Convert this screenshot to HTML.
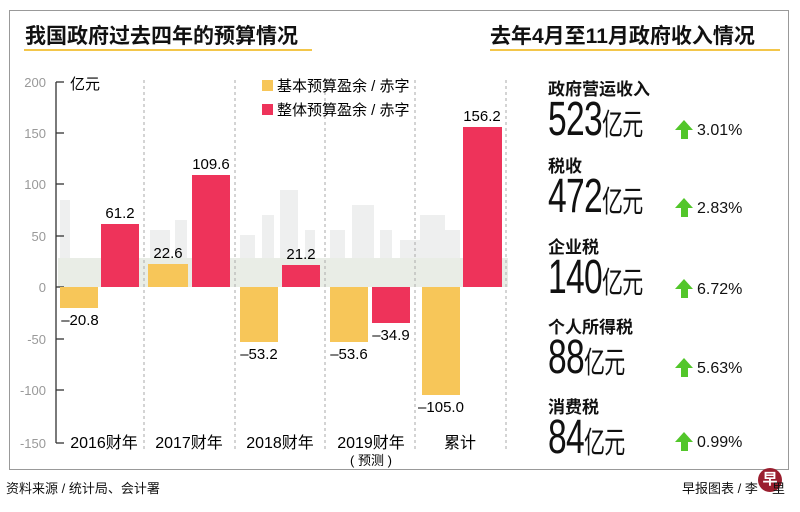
<!DOCTYPE html>
<html><head><meta charset="utf-8"><style>
body{margin:0;width:800px;height:512px;background:#fff;position:relative;overflow:hidden;font-family:"Liberation Sans","Noto Sans CJK SC",sans-serif;color:#111}
.a{position:absolute;white-space:nowrap}
.t{font-weight:bold;font-size:21px}
.lbl{font-weight:bold;font-size:17px;left:548px}
.num{left:548px;font-size:48px;transform:scaleX(0.7);transform-origin:left top;letter-spacing:-1px;line-height:46px}
.num span{font-size:30px}
.pct{left:700px;font-size:16px}
.arr{position:absolute;width:0;height:0;border-left:9px solid transparent;border-right:9px solid transparent;border-bottom:10px solid #52c62a}
.arrs{position:absolute;width:7px;height:9px;background:#52c62a}
</style></head><body>
<div class="a" style="left:9px;top:10px;width:780px;height:460px;border:1px solid #999;box-sizing:border-box"></div>
<div class="a t" style="left:25px;top:20px">我国政府过去四年的预算情况</div>
<div class="a" style="left:24px;top:49px;width:288px;height:2px;background:#f3c64a"></div>
<div class="a t" style="left:490px;top:20px">去年4月至11月政府收入情况</div>
<div class="a" style="left:490px;top:49px;width:290px;height:2px;background:#f3c64a"></div>
<svg class="a" style="left:0;top:0" width="520" height="470" font-family="Liberation Sans,Noto Sans CJK SC,sans-serif">
<g fill="#eeefef">
<rect x="60" y="200" width="10" height="60"/><rect x="150" y="230" width="20" height="40"/><rect x="175" y="220" width="12" height="50"/><rect x="240" y="235" width="15" height="50"/><rect x="262" y="215" width="12" height="70"/><rect x="280" y="190" width="18" height="70"/><rect x="305" y="230" width="10" height="35"/><rect x="330" y="230" width="15" height="40"/><rect x="352" y="205" width="22" height="60"/><rect x="380" y="230" width="12" height="40"/><rect x="400" y="240" width="20" height="30"/><rect x="420" y="215" width="25" height="55"/><rect x="445" y="230" width="15" height="40"/>
<rect x="58" y="258" width="450" height="29" fill="#e9ede6"/>
</g>
<g stroke="#aaa" stroke-dasharray="3,3" stroke-width="1">
<line x1="144" y1="80" x2="144" y2="450"/><line x1="235" y1="80" x2="235" y2="450"/><line x1="325" y1="80" x2="325" y2="450"/><line x1="415" y1="80" x2="415" y2="450"/><line x1="506" y1="80" x2="506" y2="450"/>
</g>
<g stroke="#333" stroke-width="1.3" fill="none">
<line x1="56" y1="82" x2="56" y2="443"/>
<line x1="56" y1="82" x2="64" y2="82"/><line x1="56" y1="133" x2="64" y2="133"/><line x1="56" y1="184" x2="64" y2="184"/><line x1="56" y1="236" x2="64" y2="236"/><line x1="56" y1="287" x2="64" y2="287"/><line x1="56" y1="339" x2="64" y2="339"/><line x1="56" y1="390" x2="64" y2="390"/><line x1="56" y1="443" x2="64" y2="443"/>
</g>
<g fill="#999" font-size="13" text-anchor="end">
<text x="46" y="87">200</text><text x="46" y="138">150</text><text x="46" y="189">100</text><text x="46" y="241">50</text><text x="46" y="292">0</text><text x="46" y="344">-50</text><text x="46" y="395">-100</text><text x="46" y="448">-150</text>
</g>
<text x="70" y="89" font-size="15">亿元</text>
<rect x="262" y="80" width="11" height="11" fill="#f7c659"/><text x="277" y="91" font-size="15">基本预算盈余 / 赤字</text>
<rect x="262" y="104" width="11" height="11" fill="#ee335a"/><text x="277" y="115" font-size="15">整体预算盈余 / 赤字</text>
<g fill="#f7c659">
<rect x="60" y="287" width="38" height="21"/><rect x="148" y="264" width="40" height="23"/><rect x="240" y="287" width="38" height="55"/><rect x="330" y="287" width="38" height="55"/><rect x="422" y="287" width="38" height="108"/>
</g>
<g fill="#ee335a">
<rect x="101" y="224" width="38" height="63"/><rect x="192" y="175" width="38" height="112"/><rect x="282" y="265" width="38" height="22"/><rect x="372" y="287" width="38" height="36"/><rect x="463" y="127" width="39" height="160"/>
</g>
<g font-size="15" text-anchor="middle">
<text x="80" y="325">–20.8</text><text x="120" y="218">61.2</text>
<text x="168" y="258">22.6</text><text x="211" y="169">109.6</text>
<text x="259" y="359">–53.2</text><text x="301" y="259">21.2</text>
<text x="349" y="359">–53.6</text><text x="391" y="340">–34.9</text>
<text x="441" y="412">–105.0</text><text x="482" y="121">156.2</text>
</g>
<g font-size="16" text-anchor="middle">
<text x="104" y="448">2016财年</text><text x="189" y="448">2017财年</text><text x="280" y="448">2018财年</text><text x="371" y="448">2019财年</text><text x="460" y="448">累计</text>
<text x="371" y="465" font-size="13">( 预测 )</text>
</g>
</svg>
<div class="a lbl" style="top:75px">政府营运收入</div>
<div class="a num" style="top:97px">523<span>亿元</span></div>
<div class="a lbl" style="top:152px">税收</div>
<div class="a num" style="top:174px">472<span>亿元</span></div>
<div class="a lbl" style="top:233px">企业税</div>
<div class="a num" style="top:255px">140<span>亿元</span></div>
<div class="a lbl" style="top:313px">个人所得税</div>
<div class="a num" style="top:335px">88<span>亿元</span></div>
<div class="a lbl" style="top:393px">消费税</div>
<div class="a num" style="top:415px">84<span>亿元</span></div>
<div class="arr" style="left:675px;top:120px"></div><div class="arrs" style="left:681px;top:130px"></div><div class="a pct" style="left:697px;top:122px">3.01%</div>
<div class="arr" style="left:675px;top:198px"></div><div class="arrs" style="left:681px;top:208px"></div><div class="a pct" style="left:697px;top:200px">2.83%</div>
<div class="arr" style="left:675px;top:279px"></div><div class="arrs" style="left:681px;top:289px"></div><div class="a pct" style="left:697px;top:281px">6.72%</div>
<div class="arr" style="left:675px;top:358px"></div><div class="arrs" style="left:681px;top:368px"></div><div class="a pct" style="left:697px;top:360px">5.63%</div>
<div class="arr" style="left:675px;top:432px"></div><div class="arrs" style="left:681px;top:442px"></div><div class="a pct" style="left:697px;top:434px">0.99%</div>
<div class="a" style="left:6px;top:478px;font-size:13px">资料来源 / 统计局、会计署</div>
<div class="a" style="left:682px;top:478px;font-size:13px">早报图表 / 李</div>
<div class="a" style="left:758px;top:468px;width:24px;height:24px;border-radius:50%;background:#9a1e2e;color:#fff;font-size:15px;text-align:center;line-height:24px;font-weight:bold">早</div>
<div class="a" style="left:772px;top:478px;font-size:13px">里</div>
</body></html>
